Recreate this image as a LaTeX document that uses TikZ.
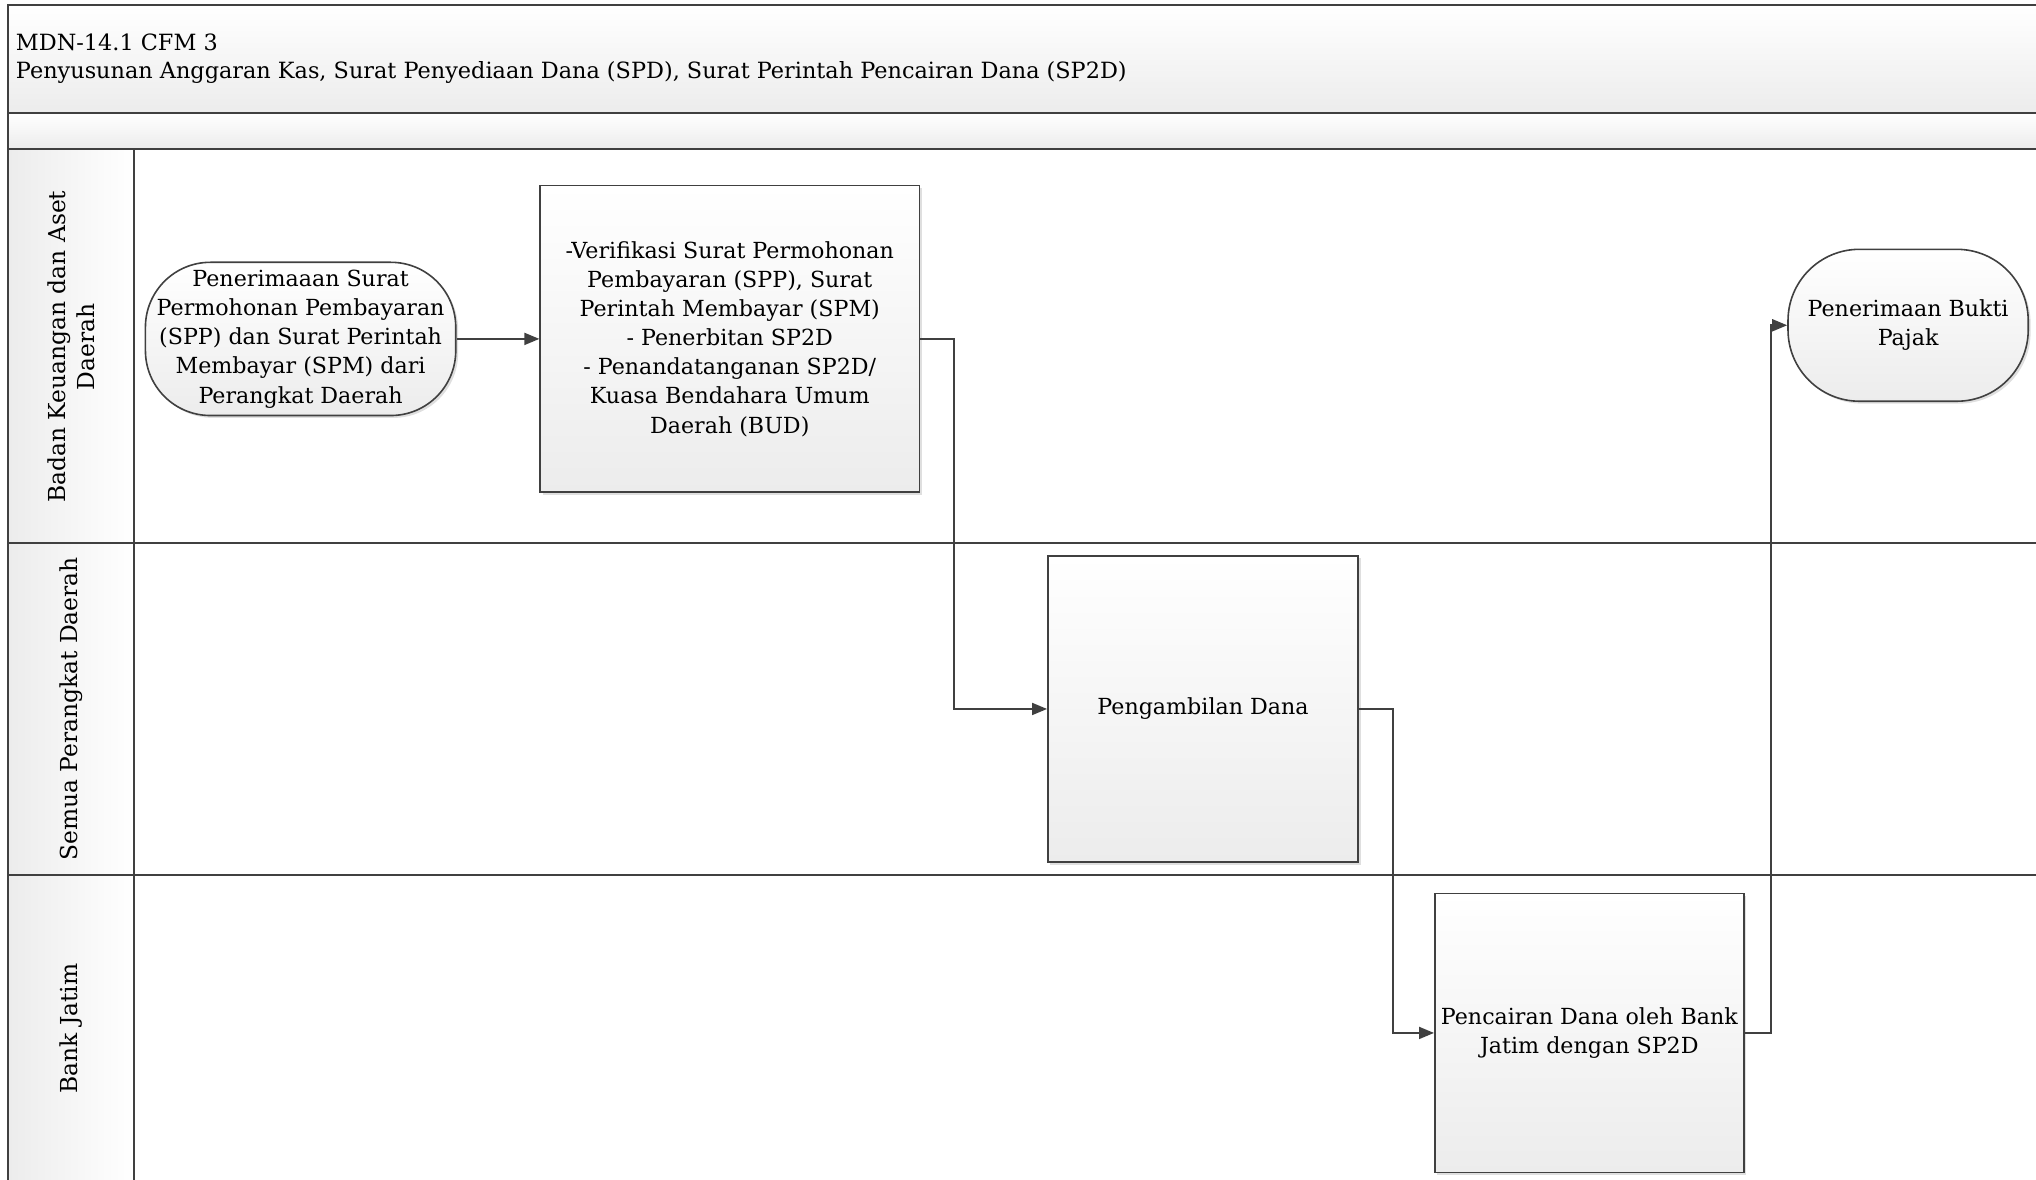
\documentclass[tikz,border=0pt]{standalone}
\usepackage{fontspec}
\setmainfont{DejaVu Serif}
\usetikzlibrary{arrows.meta,shadows}
\newlength\pxu
\setlength\pxu{0.65pt}
\definecolor{lineC}{HTML}{404040}
\definecolor{fillB}{HTML}{ECECEC}
\tikzset{
  lane/.style={draw=lineC,line width=1pt},
  band/.style={draw=lineC,line width=1pt,top color=white,bottom color=fillB},
  proc/.style={draw=lineC,line width=0.8pt,rectangle,top color=white,bottom color=fillB,
    drop shadow={shadow xshift=1.2pt,shadow yshift=-1.2pt,opacity=0.25},
    align=center,font=\fontsize{11.1}{14.6}\selectfont,inner sep=1pt},
  term/.style={proc},
  arr/.style={draw=lineC,line width=0.9pt,-{Triangle[length=7.5pt,width=6pt]}},
  lanelabel/.style={rotate=90,align=center,font=\fontsize{11.7}{14.6}\selectfont},
  title/.style={anchor=west,font=\fontsize{11.2}{14.6}\selectfont,inner sep=0pt}
}
\begin{document}
\begin{tikzpicture}[x=\pxu,y=-\pxu]
\useasboundingbox (0,0) rectangle (1568,908);
\begin{scope}
\clip (0,0) rectangle (1568,908);
% header bands
\path[band] (6,4) rectangle (1590,87);
\path[band] (6,87) rectangle (1590,115);
% lane label column
\path[draw=lineC,line width=1pt,left color=fillB,right color=white] (6,115) rectangle (103,950);
% lanes
\draw[lane] (6,115) -- (1590,115);
\draw[lane] (6,418) -- (1590,418);
\draw[lane] (6,674) -- (1590,674);
\draw[lane] (6,4) -- (6,950);
\draw[lane] (103,115) -- (103,950);
\end{scope}

\node[title] (t1) at (12,33) {MDN-14.1 CFM 3};
\node[title] (t2) at (12,56) {Penyusunan Anggaran Kas, Surat Penyediaan Dana (SPD), Surat Perintah Pencairan Dana (SP2D)};

\node[lanelabel] (l1) at (55,267) {Badan Keuangan dan Aset\\Daerah};
\node[lanelabel] (l2) at (55,546) {Semua Perangkat Daerah};
\node[lanelabel] (l3) at (55,792) {Bank Jatim};

\node[term,rounded corners=50\pxu,minimum width=239\pxu,minimum height=118\pxu] (n1) at (231.5,261)
  {Penerimaaan Surat\\Permohonan Pembayaran\\(SPP) dan Surat Perintah\\Membayar (SPM) dari\\Perangkat Daerah};
\node[proc,minimum width=292\pxu,minimum height=236\pxu] (n2) at (562,261)
  {-Verifikasi Surat Permohonan\\Pembayaran (SPP), Surat\\Perintah Membayar (SPM)\\- Penerbitan SP2D\\- Penandatanganan SP2D/\\Kuasa Bendahara Umum\\Daerah (BUD)};
\node[proc,minimum width=239\pxu,minimum height=236\pxu] (n3) at (926.5,546) {Pengambilan Dana};
\node[proc,minimum width=238\pxu,minimum height=215\pxu] (n4) at (1224,795.5)
  {Pencairan Dana oleh Bank\\Jatim dengan SP2D};
\node[term,rounded corners=55\pxu,minimum width=185\pxu,minimum height=117\pxu] (n5) at (1469.5,250.5)
  {Penerimaan Bukti\\Pajak};

\draw[arr] (n1.east) -- (n2.west);
\draw[arr] (n2.east) -- ++(26,0) |- (n3.west);
\draw[arr] (n3.east) -- ++(26,0) |- (n4.west);
\draw[arr] (n4.east) -- ++(20,0) |- (n5.west);
\end{tikzpicture}
\end{document}
